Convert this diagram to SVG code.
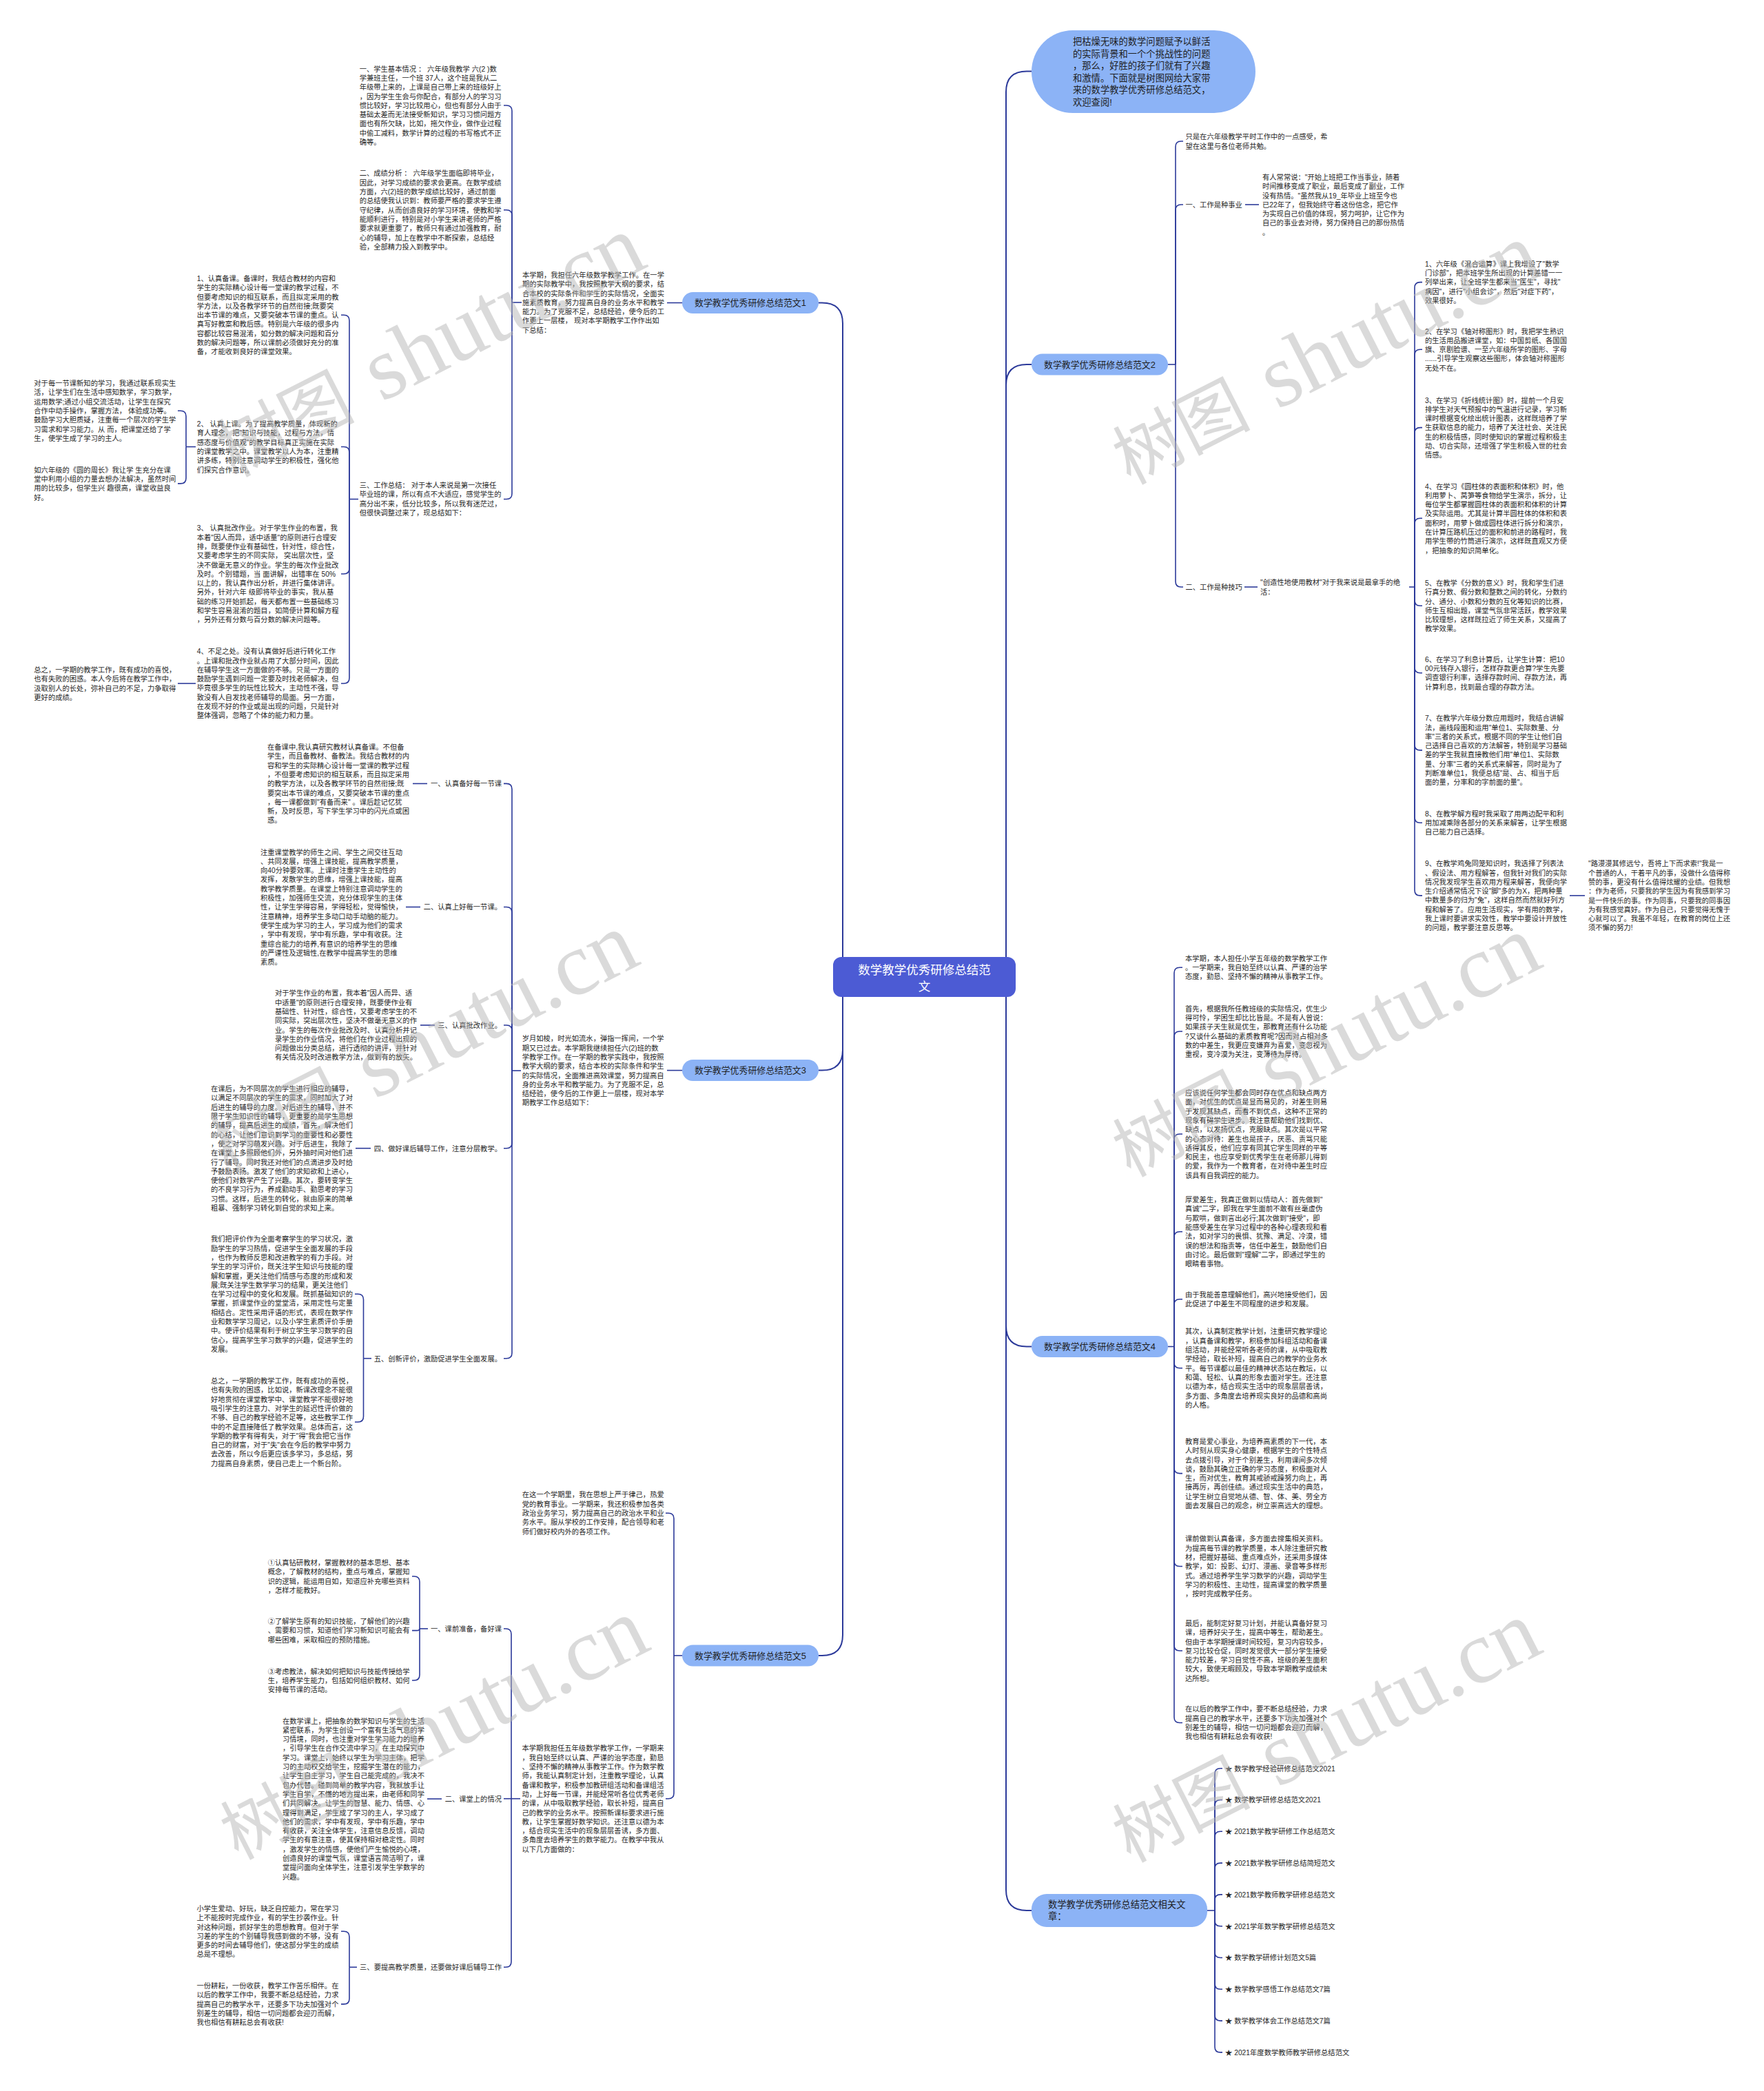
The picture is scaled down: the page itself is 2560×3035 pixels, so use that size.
<svg xmlns="http://www.w3.org/2000/svg" width="2560" height="3035" viewBox="0 0 2560 3035">
<style>
.t{font-family:"Liberation Sans","Noto Sans CJK SC",sans-serif;font-size:10.3px;fill:#262626}
.bn{font-family:"Liberation Sans","Noto Sans CJK SC",sans-serif;font-size:12.9px;fill:#1e1e1e}
.bb{font-family:"Liberation Sans","Noto Sans CJK SC",sans-serif;font-size:13.3px;fill:#1e1e1e}
.cn{font-family:"Liberation Sans","Noto Sans CJK SC",sans-serif;font-size:17.5px;fill:#ffffff}
.pill{fill:#8cb3f6}
.c{fill:none;stroke:#2c3a9a;stroke-width:1.6}
.c0{fill:none;stroke:#2c3a9a;stroke-width:2}
.wm{fill:#b5b5b5;fill-opacity:0.5}
</style>
<rect x="0" y="0" width="2560" height="3035" fill="#ffffff"/>

<g id="connectors">
<path class="c0" d="M1460 1418V133.5Q1460 103.5 1490 103.5H1497"/>
<path class="c0" d="M1460 1418V559Q1460 529 1490 529H1497"/>
<path class="c0" d="M1460 1418V1924.5Q1460 1954.5 1490 1954.5H1497"/>
<path class="c0" d="M1460 1418V2743Q1460 2773 1490 2773H1497"/>
<path class="c0" d="M1223 1418V469.5Q1223 439.5 1193 439.5H1188"/>
<path class="c0" d="M1223 1418V1523.6Q1223 1553.6 1193 1553.6H1188"/>
<path class="c0" d="M1223 1418V2373Q1223 2403 1193 2403H1188"/>

<path class="c" d="M990 439.5H968"/>
<path class="c" d="M757 439H743"/>
<path class="c" d="M743 439V161Q743 153 735 153H731"/>
<path class="c" d="M743 439V312.8Q743 304.8 735 304.8H731"/>
<path class="c" d="M743 439V716.5Q743 724.5 735 724.5H731"/>
<path class="c" d="M520 724.5H507"/>
<path class="c" d="M507 724.5V465.3Q507 457.3 499 457.3H495"/>
<path class="c" d="M507 724.5V656.5Q507 648.5 499 648.5H495"/>
<path class="c" d="M507 724.5V825Q507 833 499 833H495"/>
<path class="c" d="M507 724.5V984Q507 992 499 992H495"/>
<path class="c" d="M284 648.5H270"/>
<path class="c" d="M270 648.5V604.2Q270 596.2 262 596.2H258"/>
<path class="c" d="M270 648.5V693.9Q270 701.9 262 701.9H258"/>
<path class="c" d="M284 992H258"/>

<path class="c" d="M990 1553.6H968"/>
<path class="c" d="M756 1554H743"/>
<path class="c" d="M743 1554V1145.4Q743 1137.4 735 1137.4H731"/>
<path class="c" d="M743 1554V1324.5Q743 1316.5 735 1316.5H731"/>
<path class="c" d="M743 1554V1496Q743 1488 735 1488H731"/>
<path class="c" d="M743 1554V1658.7Q743 1666.7 735 1666.7H731"/>
<path class="c" d="M743 1554V1963.7Q743 1971.7 735 1971.7H731"/>
<path class="c" d="M620 1137.4H599"/>
<path class="c" d="M610 1316.5H589"/>
<path class="c" d="M631 1488H610"/>
<path class="c" d="M538 1666.7H516"/>
<path class="c" d="M539 1971.7H527.5"/>
<path class="c" d="M527.5 1971.7V1886.3Q527.5 1878.3 519.5 1878.3H515"/>
<path class="c" d="M527.5 1971.7V2056Q527.5 2064 519.5 2064H515"/>

<path class="c" d="M990 2403H978"/>
<path class="c" d="M978 2403V2204.2Q978 2196.2 970 2196.2H966"/>
<path class="c" d="M978 2403V2602.7Q978 2610.7 970 2610.7H966"/>
<path class="c" d="M755 2610.7H742"/>
<path class="c" d="M742 2610.7V2372Q742 2364 734 2364H731"/>
<path class="c" d="M742 2610.7H731"/>
<path class="c" d="M742 2610.7V2847.3Q742 2855.3 734 2855.3H731"/>
<path class="c" d="M621 2364H609"/>
<path class="c" d="M609 2364V2296Q609 2288 601 2288H598"/>
<path class="c" d="M609 2364Q609 2366.6 605 2366.6H598"/>
<path class="c" d="M609 2364V2431Q609 2439 601 2439H598"/>
<path class="c" d="M641 2611H620"/>
<path class="c" d="M518 2855.3H507"/>
<path class="c" d="M507 2855.3V2811.3Q507 2803.3 499 2803.3H495"/>
<path class="c" d="M507 2855.3V2900.9Q507 2908.9 499 2908.9H495"/>

<path class="c" d="M1695 529H1706"/>
<path class="c" d="M1706 529V213Q1706 205 1714 205H1717"/>
<path class="c" d="M1706 529V305Q1706 297 1714 297H1717"/>
<path class="c" d="M1706 529V844Q1706 852 1714 852H1717"/>
<path class="c" d="M1807 297H1827"/>
<path class="c" d="M1806 852H1825"/>
<path class="c" d="M2045 852H2053"/>
<path class="c" d="M2053 852V417.6Q2053 409.6 2061 409.6H2064"/>
<path class="c" d="M2053 852V515.3Q2053 507.3 2061 507.3H2064"/>
<path class="c" d="M2053 852V628.6Q2053 620.6 2061 620.6H2064"/>
<path class="c" d="M2053 852V760.2Q2053 752.2 2061 752.2H2064"/>
<path class="c" d="M2053 852V871.3Q2053 879.3 2061 879.3H2064"/>
<path class="c" d="M2053 852V968.7Q2053 976.7 2061 976.7H2064"/>
<path class="c" d="M2053 852V1080.9Q2053 1088.9 2061 1088.9H2064"/>
<path class="c" d="M2053 852V1186.3Q2053 1194.3 2061 1194.3H2064"/>
<path class="c" d="M2053 852V1291.9Q2053 1299.9 2061 1299.9H2064"/>
<path class="c" d="M2278 1299.9H2300"/>

<path class="c" d="M1695 1954.5H1704"/>
<path class="c" d="M1704 1954.5V1412.3Q1704 1404.3 1712 1404.3H1716"/>
<path class="c" d="M1704 1954.5V1505Q1704 1497 1712 1497H1716"/>
<path class="c" d="M1704 1954.5V1654Q1704 1646 1712 1646H1716"/>
<path class="c" d="M1704 1954.5V1795.7Q1704 1787.7 1712 1787.7H1716"/>
<path class="c" d="M1704 1954.5V1893.7Q1704 1885.7 1712 1885.7H1716"/>
<path class="c" d="M1704 1954.5V1977.8Q1704 1985.8 1712 1985.8H1716"/>
<path class="c" d="M1704 1954.5V2130.6Q1704 2138.6 1712 2138.6H1716"/>
<path class="c" d="M1704 1954.5V2265.5Q1704 2273.5 1712 2273.5H1716"/>
<path class="c" d="M1704 1954.5V2388Q1704 2396 1712 2396H1716"/>
<path class="c" d="M1704 1954.5V2492.5Q1704 2500.5 1712 2500.5H1716"/>

<path class="c" d="M1752 2773H1763"/>
<path class="c" d="M1763 2773V2574.7Q1763 2566.7 1771 2566.7H1774"/>
<path class="c" d="M1763 2773V2620.5Q1763 2612.5 1771 2612.5H1774"/>
<path class="c" d="M1763 2773V2666.3Q1763 2658.3 1771 2658.3H1774"/>
<path class="c" d="M1763 2773V2712.1Q1763 2704.1 1771 2704.1H1774"/>
<path class="c" d="M1763 2773V2757.9Q1763 2749.9 1771 2749.9H1774"/>
<path class="c" d="M1763 2773V2787.7Q1763 2795.7 1771 2795.7H1774"/>
<path class="c" d="M1763 2773V2833.5Q1763 2841.5 1771 2841.5H1774"/>
<path class="c" d="M1763 2773V2879.3Q1763 2887.3 1771 2887.3H1774"/>
<path class="c" d="M1763 2773V2925.1Q1763 2933.1 1771 2933.1H1774"/>
<path class="c" d="M1763 2773V2970.9Q1763 2978.9 1771 2978.9H1774"/>
</g>

<g id="center">
<rect x="1209" y="1389" width="265" height="58" rx="12" fill="#4c5bd4"/>
<text class="cn" text-anchor="middle"><tspan x="1341.5" y="1413.5">数学教学优秀研修总结范</tspan><tspan x="1341.5" y="1437.5">文</tspan></text>
</g>

<g id="intro-bubble">
<rect class="pill" x="1497" y="44" width="325" height="120" rx="60"/>
<text class="bb"><tspan x="1557" y="64.9">把枯燥无味的数学问题赋予以鲜活</tspan><tspan x="1557" dy="17.6">的实际背景和一个个挑战性的问题</tspan><tspan x="1557" dy="17.6">，那么，好胜的孩子们就有了兴趣</tspan><tspan x="1557" dy="17.6">和激情。下面就是树图网给大家带</tspan><tspan x="1557" dy="17.6">来的数学教学优秀研修总结范文，</tspan><tspan x="1557" dy="17.6">欢迎查阅!</tspan></text>
</g>

<g id="fanwen1">
<rect class="pill" x="990" y="424" width="198" height="31" rx="15.5"/>
<text class="bn" x="1089" y="444.2" text-anchor="middle">数学教学优秀研修总结范文1</text>
</g>
<g id="f1-intro"><text class="t"><tspan x="758" y="402.9">本学期，我担任六年级数学教学工作。在一学</tspan><tspan x="758" dy="13.3">期的实际教学中，我按照教学大纲的要求，结</tspan><tspan x="758" dy="13.3">合本校的实际条件和学生的实际情况，全面实</tspan><tspan x="758" dy="13.3">施素质教育，努力提高自身的业务水平和教学</tspan><tspan x="758" dy="13.3">能力。为了克服不足，总结经验，使今后的工</tspan><tspan x="758" dy="13.3">作更上一层楼， 现对本学期教学工作作出如</tspan><tspan x="758" dy="13.3">下总结：</tspan></text></g>
<g id="f1-s1"><text class="t"><tspan x="521.7" y="103.6">一、学生基本情况 ： 六年级我教学 六(2 )数</tspan><tspan x="521.7" dy="13.3">学兼班主任，一个班 37人，这个班是我从二</tspan><tspan x="521.7" dy="13.3">年级带上来的，上课是自己带上来的班级好上</tspan><tspan x="521.7" dy="13.3">，因为学生生会与你配合，有部分人的学习习</tspan><tspan x="521.7" dy="13.3">惯比较好，学习比较用心，但也有部分人由于</tspan><tspan x="521.7" dy="13.3">基础太差而无法接受新知识，学习习惯问题方</tspan><tspan x="521.7" dy="13.3">面也有所欠缺，比如，拖欠作业，做作业过程</tspan><tspan x="521.7" dy="13.3">中偷工减料，数学计算的过程的书写格式不正</tspan><tspan x="521.7" dy="13.3">确等。</tspan></text></g>
<g id="f1-s2"><text class="t"><tspan x="521.7" y="255.4">二、成绩分析 ： 六年级学生面临即将毕业，</tspan><tspan x="521.7" dy="13.3">因此，对学习成绩的要求会更高。在数学成绩</tspan><tspan x="521.7" dy="13.3">方面，六(2)班的数学成绩比较好，通过前面</tspan><tspan x="521.7" dy="13.3">的总结使我认识到：教师要严格的要求学生遵</tspan><tspan x="521.7" dy="13.3">守纪律，从而创造良好的学习环境，使教和学</tspan><tspan x="521.7" dy="13.3">能顺利进行，特别是对小学生来讲老师的严格</tspan><tspan x="521.7" dy="13.3">要求就更重要了，教师只有通过加强教育，耐</tspan><tspan x="521.7" dy="13.3">心的辅导，加上在教学中不断探索，总结经</tspan><tspan x="521.7" dy="13.3">验，全部精力投入到教学中。</tspan></text></g>
<g id="f1-s3"><text class="t"><tspan x="521.7" y="707.9">三、工作总结： 对于本人来说是第一次接任</tspan><tspan x="521.7" dy="13.3">毕业班的课，所以有点不大适应，感觉学生的</tspan><tspan x="521.7" dy="13.3">高分出不来，低分比较多，所以我有迷茫过，</tspan><tspan x="521.7" dy="13.3">但很快调整过来了，现总结如下：</tspan></text></g>
<g id="f1-p1"><text class="t"><tspan x="285.7" y="407.9">1、认真备课。备课时，我结合教材的内容和</tspan><tspan x="285.7" dy="13.3">学生的实际精心设计每一堂课的教学过程，不</tspan><tspan x="285.7" dy="13.3">但要考虑知识的相互联系，而且拟定采用的教</tspan><tspan x="285.7" dy="13.3">学方法，以及各教学环节的自然衔接;既要突</tspan><tspan x="285.7" dy="13.3">出本节课的难点，又要突破本节课的重点。认</tspan><tspan x="285.7" dy="13.3">真写好教案和教后感。特别是六年级的很多内</tspan><tspan x="285.7" dy="13.3">容都比较容易混淆，如分数的解决问题和百分</tspan><tspan x="285.7" dy="13.3">数的解决问题等，所以课前必须做好充分的准</tspan><tspan x="285.7" dy="13.3">备，才能收到良好的课堂效果。</tspan></text></g>
<g id="f1-p2"><text class="t"><tspan x="285.7" y="619">2、 认真上课。为了提高教学质量，体现新的</tspan><tspan x="285.7" dy="13.3">育人理念，把"知识与技能，过程与方法，情</tspan><tspan x="285.7" dy="13.3">感态度与价值观"的教学目标真正实施在实际</tspan><tspan x="285.7" dy="13.3">的课堂教学之中。课堂教学以人为本，注重精</tspan><tspan x="285.7" dy="13.3">讲多练，特别注意调动学生的积极性，强化他</tspan><tspan x="285.7" dy="13.3">们探究合作意识。</tspan></text></g>
<g id="f1-p3"><text class="t"><tspan x="285.7" y="770.3">3、 认真批改作业。对于学生作业的布置，我</tspan><tspan x="285.7" dy="13.3">本着"因人而异，适中适量"的原则进行合理安</tspan><tspan x="285.7" dy="13.3">排，既要使作业有基础性，针对性，综合性，</tspan><tspan x="285.7" dy="13.3">又要考虑学生的不同实际， 突出层次性，坚</tspan><tspan x="285.7" dy="13.3">决不做毫无意义的作业。学生的每次作业批改</tspan><tspan x="285.7" dy="13.3">及时。个别错题，当 面讲解，出错率在 50%</tspan><tspan x="285.7" dy="13.3">以上的，我认真作出分析，并进行集体讲评。</tspan><tspan x="285.7" dy="13.3">另外，针对六年 级即将毕业的事实，我从基</tspan><tspan x="285.7" dy="13.3">础的练习开始抓起，每天都布置一些基础练习</tspan><tspan x="285.7" dy="13.3">和学生容易混淆的题目，如简便计算和解方程</tspan><tspan x="285.7" dy="13.3">，另外还有分数与百分数的解决问题等。</tspan></text></g>
<g id="f1-p4"><text class="t"><tspan x="285.7" y="949.2">4、不足之处。没有认真做好后进行转化工作</tspan><tspan x="285.7" dy="13.3">。上课和批改作业就占用了大部分时间，因此</tspan><tspan x="285.7" dy="13.3">在辅导学生这一方面做的不够。只是一方面的</tspan><tspan x="285.7" dy="13.3">鼓励学生遇到问题一定要及时找老师解决，但</tspan><tspan x="285.7" dy="13.3">毕竟很多学生的玩性比较大，主动性不强，导</tspan><tspan x="285.7" dy="13.3">致没有人自发找老师辅导的局面。另一方面，</tspan><tspan x="285.7" dy="13.3">在发现不好的作业或是出现的问题，只是针对</tspan><tspan x="285.7" dy="13.3">整体强调，忽略了个体的能力和力量。</tspan></text></g>
<g id="f1-p2a"><text class="t"><tspan x="49.3" y="560.1">对于每一节课新知的学习，我通过联系现实生</tspan><tspan x="49.3" dy="13.3">活，让学生们在生活中感知数学，学习数学，</tspan><tspan x="49.3" dy="13.3">运用数学;通过小组交流活动，让学生在探究</tspan><tspan x="49.3" dy="13.3">合作中动手操作，掌握方法， 体验成功等。</tspan><tspan x="49.3" dy="13.3">鼓励学习大胆质疑，注重每一个层次的学生学</tspan><tspan x="49.3" dy="13.3">习需求和学习能力。从 而，把课堂还给了学</tspan><tspan x="49.3" dy="13.3">生，使学生成了学习的主人。</tspan></text></g>
<g id="f1-p2b"><text class="t"><tspan x="49.3" y="685.8">如六年级的《圆的周长》我让学 生充分在课</tspan><tspan x="49.3" dy="13.3">堂中利用小组的力量去想办法解决，虽然时间</tspan><tspan x="49.3" dy="13.3">用的比较多，但学生兴 趣很高，课堂收益良</tspan><tspan x="49.3" dy="13.3">好。</tspan></text></g>
<g id="f1-p4a"><text class="t"><tspan x="49.3" y="975.9">总之，一学期的教学工作，既有成功的喜悦，</tspan><tspan x="49.3" dy="13.3">也有失败的困惑。本人今后将在教学工作中，</tspan><tspan x="49.3" dy="13.3">汲取别人的长处，弥补自己的不足，力争取得</tspan><tspan x="49.3" dy="13.3">更好的成绩。</tspan></text></g>

<g id="fanwen3">
<rect class="pill" x="990" y="1538" width="198" height="31" rx="15.5"/>
<text class="bn" x="1089" y="1558.3" text-anchor="middle">数学教学优秀研修总结范文3</text>
</g>
<g id="f3-intro"><text class="t"><tspan x="757.7" y="1511.3">岁月如梭，时光如流水，弹指一挥间，一个学</tspan><tspan x="757.7" dy="13.3">期又已过去。本学期我继续担任六(2)班的数</tspan><tspan x="757.7" dy="13.3">学教学工作。在一学期的教学实践中，我按照</tspan><tspan x="757.7" dy="13.3">教学大纲的要求，结合本校的实际条件和学生</tspan><tspan x="757.7" dy="13.3">的实际情况，全面推进高效课堂，努力提高自</tspan><tspan x="757.7" dy="13.3">身的业务水平和教学能力。为了克服不足，总</tspan><tspan x="757.7" dy="13.3">结经验，使今后的工作更上一层楼，现对本学</tspan><tspan x="757.7" dy="13.3">期教学工作总结如下：</tspan></text></g>
<g id="f3-l1"><text class="t" x="728" y="1141.2" text-anchor="end">一、认真备好每一节课</text></g>
<g id="f3-l2"><text class="t" x="728" y="1320.3" text-anchor="end">二、认真上好每一节课。</text></g>
<g id="f3-l3"><text class="t" x="728" y="1491.8" text-anchor="end">三、认真批改作业。</text></g>
<g id="f3-l4"><text class="t" x="728" y="1670.5" text-anchor="end">四、做好课后辅导工作，注意分层教学。</text></g>
<g id="f3-l5"><text class="t" x="728" y="1975.5" text-anchor="end">五、创新评价，激励促进学生全面发展。</text></g>
<g id="f3-b1"><text class="t"><tspan x="388" y="1088">在备课中,我认真研究教材认真备课。不但备</tspan><tspan x="388" dy="13.3">学生，而且备教材、备教法。我结合教材的内</tspan><tspan x="388" dy="13.3">容和学生的实际精心设计每一堂课的教学过程</tspan><tspan x="388" dy="13.3">，不但要考虑知识的相互联系，而且拟定采用</tspan><tspan x="388" dy="13.3">的教学方法，以及各教学环节的自然衔接;既</tspan><tspan x="388" dy="13.3">要突出本节课的难点，又要突破本节课的重点</tspan><tspan x="388" dy="13.3">，每一课都做到"有备而来" 。课后趁记忆犹</tspan><tspan x="388" dy="13.3">新，及时反思，写下学生学习中的闪光点或困</tspan><tspan x="388" dy="13.3">惑。</tspan></text></g>
<g id="f3-b2"><text class="t"><tspan x="378" y="1240.5">注重课堂教学的师生之间、学生之间交往互动</tspan><tspan x="378" dy="13.3">、共同发展，增强上课技能，提高教学质量，</tspan><tspan x="378" dy="13.3">向40分钟要效率。上课时注重学生主动性的</tspan><tspan x="378" dy="13.3">发挥，发散学生的思维，增强上课技能，提高</tspan><tspan x="378" dy="13.3">教学教学质量。在课堂上特别注意调动学生的</tspan><tspan x="378" dy="13.3">积极性，加强师生交流，充分体现学生的主体</tspan><tspan x="378" dy="13.3">性，让学生学得容易，学得轻松，觉得愉快，</tspan><tspan x="378" dy="13.3">注意精神，培养学生多动口动手动脑的能力。</tspan><tspan x="378" dy="13.3">使学生成为学习的主人，学习成为他们的需求</tspan><tspan x="378" dy="13.3">，学中有发现，学中有乐趣，学中有收获。注</tspan><tspan x="378" dy="13.3">重综合能力的培养,有意识的培养学生的思维</tspan><tspan x="378" dy="13.3">的严谨性及逻辑性,在教学中提高学生的思维</tspan><tspan x="378" dy="13.3">素质。</tspan></text></g>
<g id="f3-b3"><text class="t"><tspan x="399" y="1445.3">对于学生作业的布置，我本着"因人而异、适</tspan><tspan x="399" dy="13.3">中适量"的原则进行合理安排，既要使作业有</tspan><tspan x="399" dy="13.3">基础性、针对性，综合性，又要考虑学生的不</tspan><tspan x="399" dy="13.3">同实际，突出层次性，坚决不做毫无意义的作</tspan><tspan x="399" dy="13.3">业。学生的每次作业批改及时、认真分析并记</tspan><tspan x="399" dy="13.3">录学生的作业情况，将他们在作业过程出现的</tspan><tspan x="399" dy="13.3">问题做出分类总结，进行透彻的讲评，并针对</tspan><tspan x="399" dy="13.3">有关情况及时改进教学方法，做到有的放矢。</tspan></text></g>
<g id="f3-b4"><text class="t"><tspan x="306" y="1584.1">在课后，为不同层次的学生进行相应的辅导，</tspan><tspan x="306" dy="13.3">以满足不同层次的学生的需求，同时加大了对</tspan><tspan x="306" dy="13.3">后进生的辅导的力度。对后进生的辅导，并不</tspan><tspan x="306" dy="13.3">限于学生知识性的辅导，更重要的是学生思想</tspan><tspan x="306" dy="13.3">的辅导，提高后进生的成绩，首先，解决他们</tspan><tspan x="306" dy="13.3">的心结，让他们意识到学习的重要性和必要性</tspan><tspan x="306" dy="13.3">，使之对学习萌发兴趣。对于后进生，我除了</tspan><tspan x="306" dy="13.3">在课堂上多照顾他们外，另外抽时间对他们进</tspan><tspan x="306" dy="13.3">行了辅导。同时我还对他们的点滴进步及时给</tspan><tspan x="306" dy="13.3">予鼓励表扬。激发了他们的求知欲和上进心，</tspan><tspan x="306" dy="13.3">使他们对数学产生了兴趣。其次，要转变学生</tspan><tspan x="306" dy="13.3">的不良学习行为，养成勤动手、勤思考的学习</tspan><tspan x="306" dy="13.3">习惯。这样，后进生的转化，就由原来的简单</tspan><tspan x="306" dy="13.3">粗暴、强制学习转化到自觉的求知上来。</tspan></text></g>
<g id="f3-b5"><text class="t"><tspan x="306" y="1802.3">我们把评价作为全面考察学生的学习状况，激</tspan><tspan x="306" dy="13.3">励学生的学习热情，促进学生全面发展的手段</tspan><tspan x="306" dy="13.3">，也作为教师反思和改进教学的有力手段。对</tspan><tspan x="306" dy="13.3">学生的学习评价，既关注学生知识与技能的理</tspan><tspan x="306" dy="13.3">解和掌握，更关注他们情感与态度的形成和发</tspan><tspan x="306" dy="13.3">展;既关注学生数学学习的结果，更关注他们</tspan><tspan x="306" dy="13.3">在学习过程中的变化和发展。既抓基础知识的</tspan><tspan x="306" dy="13.3">掌握，抓课堂作业的堂堂清，采用定性与定量</tspan><tspan x="306" dy="13.3">相结合。定性采用评语的形式，表现在数学作</tspan><tspan x="306" dy="13.3">业和数学学习周记，以及小学生素质评价手册</tspan><tspan x="306" dy="13.3">中。使评价结果有利于树立学生学习数学的自</tspan><tspan x="306" dy="13.3">信心，提高学生学习数学的兴趣，促进学生的</tspan><tspan x="306" dy="13.3">发展。</tspan></text></g>
<g id="f3-b6"><text class="t"><tspan x="306" y="2008">总之，一学期的教学工作，既有成功的喜悦，</tspan><tspan x="306" dy="13.3">也有失败的困惑，比如说，新课改理念不能很</tspan><tspan x="306" dy="13.3">好地贯彻在课堂教学中、课堂教学不能很好地</tspan><tspan x="306" dy="13.3">吸引学生的注意力、对学生的延迟性评价做的</tspan><tspan x="306" dy="13.3">不够、自己的教学经验不足等，这些教学工作</tspan><tspan x="306" dy="13.3">中的不足直接降低了教学效果。总体而言，这</tspan><tspan x="306" dy="13.3">学期的教学有得有失，对于"得"我会把它当作</tspan><tspan x="306" dy="13.3">自己的财富，对于"失"会在今后的教学中努力</tspan><tspan x="306" dy="13.3">去改善，所以今后更应该多学习，多总结，努</tspan><tspan x="306" dy="13.3">力提高自身素质，使自己走上一个新台阶。</tspan></text></g>

<g id="fanwen5">
<rect class="pill" x="990" y="2387.5" width="198" height="31" rx="15.5"/>
<text class="bn" x="1089" y="2407.7" text-anchor="middle">数学教学优秀研修总结范文5</text>
</g>
<g id="f5-intro1"><text class="t"><tspan x="757.8" y="2173.4">在这一个学期里，我在思想上严于律己，热爱</tspan><tspan x="757.8" dy="13.3">党的教育事业。一学期来，我还积极参加各类</tspan><tspan x="757.8" dy="13.3">政治业务学习，努力提高自己的政治水平和业</tspan><tspan x="757.8" dy="13.3">务水平。服从学校的工作安排，配合领导和老</tspan><tspan x="757.8" dy="13.3">师们做好校内外的各项工作。</tspan></text></g>
<g id="f5-intro2"><text class="t"><tspan x="757.5" y="2541.4">本学期我担任五年级数学教学工作，一学期来</tspan><tspan x="757.5" dy="13.3">，我自始至终以认真、严谨的治学态度，勤恳</tspan><tspan x="757.5" dy="13.3">、坚持不懈的精神从事教学工作。作为数学教</tspan><tspan x="757.5" dy="13.3">师，我能认真制定计划，注重教学理论，认真</tspan><tspan x="757.5" dy="13.3">备课和教学，积极参加教研组活动和备课组活</tspan><tspan x="757.5" dy="13.3">动，上好每一节课，并能经常听各位优秀老师</tspan><tspan x="757.5" dy="13.3">的课，从中吸取教学经验，取长补短，提高自</tspan><tspan x="757.5" dy="13.3">己的教学的业务水平。按照新课标要求进行施</tspan><tspan x="757.5" dy="13.3">教，让学生掌握好数学知识。还注意以德为本</tspan><tspan x="757.5" dy="13.3">，结合现实生活中的现象层层善诱，多方面、</tspan><tspan x="757.5" dy="13.3">多角度去培养学生的数学能力。在教学中我从</tspan><tspan x="757.5" dy="13.3">以下几方面做的：</tspan></text></g>
<g id="f5-l1"><text class="t" x="728" y="2367.8" text-anchor="end">一、课前准备，备好课</text></g>
<g id="f5-l2"><text class="t" x="728" y="2614.8" text-anchor="end">二、课堂上的情况</text></g>
<g id="f5-l3"><text class="t" x="728" y="2859.1" text-anchor="end">三、要提高教学质量，还要做好课后辅导工作</text></g>
<g id="f5-a1"><text class="t"><tspan x="388.7" y="2271.9">①认真钻研教材，掌握教材的基本思想、基本</tspan><tspan x="388.7" dy="13.3">概念，了解教材的结构，重点与难点，掌握知</tspan><tspan x="388.7" dy="13.3">识的逻辑，能运用自如，知道应补充哪些资料</tspan><tspan x="388.7" dy="13.3">，怎样才能教好。</tspan></text></g>
<g id="f5-a2"><text class="t"><tspan x="388.7" y="2357.1">②了解学生原有的知识技能，了解他们的兴趣</tspan><tspan x="388.7" dy="13.3">、需要和习惯，知道他们学习新知识可能会有</tspan><tspan x="388.7" dy="13.3">哪些困难，采取相应的预防措施。</tspan></text></g>
<g id="f5-a3"><text class="t"><tspan x="388.7" y="2429.5">③考虑教法，解决如何把知识与技能传授给学</tspan><tspan x="388.7" dy="13.3">生，培养学生能力，包括如何组织教材、如何</tspan><tspan x="388.7" dy="13.3">安排每节课的活动。</tspan></text></g>
<g id="f5-b1"><text class="t"><tspan x="410" y="2501.5">在数学课上，把抽象的数学知识与学生的生活</tspan><tspan x="410" dy="13.3">紧密联系，为学生创设一个富有生活气息的学</tspan><tspan x="410" dy="13.3">习情境，同时，也注重对学生学习能力的培养</tspan><tspan x="410" dy="13.3">，引导学生在合作交流中学习，在主动探究中</tspan><tspan x="410" dy="13.3">学习。课堂上，始终以学生为学习主体，把学</tspan><tspan x="410" dy="13.3">习的主动权交给学生，挖掘学生潜在的能力，</tspan><tspan x="410" dy="13.3">让学生自主学习，学生自己能完成的，我决不</tspan><tspan x="410" dy="13.3">包办代替。碰到简单的教学内容，我就放手让</tspan><tspan x="410" dy="13.3">学生自学，不懂的地方提出来，由老师和同学</tspan><tspan x="410" dy="13.3">们共同解决。让学生的智慧、能力、情感、心</tspan><tspan x="410" dy="13.3">理得到满足，学生成了学习的主人，学习成了</tspan><tspan x="410" dy="13.3">他们的需求，学中有发现，学中有乐趣，学中</tspan><tspan x="410" dy="13.3">有收获，关注全体学生，注意信息反馈，调动</tspan><tspan x="410" dy="13.3">学生的有意注意，使其保持相对稳定性。同时</tspan><tspan x="410" dy="13.3">，激发学生的情感，使他们产生愉悦的心境，</tspan><tspan x="410" dy="13.3">创造良好的课堂气氛，课堂语言简洁明了，课</tspan><tspan x="410" dy="13.3">堂提问面向全体学生，注意引发学生学数学的</tspan><tspan x="410" dy="13.3">兴趣。</tspan></text></g>
<g id="f5-c1"><text class="t"><tspan x="285.5" y="2773.9">小学生爱动、好玩，缺乏自控能力，常在学习</tspan><tspan x="285.5" dy="13.3">上不能按时完成作业，有的学生抄袭作业。针</tspan><tspan x="285.5" dy="13.3">对这种问题，抓好学生的思想教育。但对于学</tspan><tspan x="285.5" dy="13.3">习差的学生的个别辅导我感到做的不够，没有</tspan><tspan x="285.5" dy="13.3">更多的时间去辅导他们，使这部分学生的成绩</tspan><tspan x="285.5" dy="13.3">总是不理想。</tspan></text></g>
<g id="f5-c2"><text class="t"><tspan x="285.5" y="2886.1">一份耕耘，一份收获，教学工作苦乐相伴。在</tspan><tspan x="285.5" dy="13.3">以后的教学工作中，我要不断总结经验，力求</tspan><tspan x="285.5" dy="13.3">提高自己的教学水平，还要多下功夫加强对个</tspan><tspan x="285.5" dy="13.3">别差生的辅导，相信一切问题都会迎刃而解，</tspan><tspan x="285.5" dy="13.3">我也相信有耕耘总会有收获!</tspan></text></g>

<g id="fanwen2">
<rect class="pill" x="1497" y="513.5" width="198" height="31" rx="15.5"/>
<text class="bn" x="1596" y="533.7" text-anchor="middle">数学教学优秀研修总结范文2</text>
</g>
<g id="f2-a"><text class="t"><tspan x="1720.5" y="202.2">只是在六年级教学平时工作中的一点感受，希</tspan><tspan x="1720.5" dy="13.3">望在这里与各位老师共勉。</tspan></text></g>
<g id="f2-l1"><text class="t" x="1720.5" y="300.8">一、工作是种事业</text></g>
<g id="f2-l1t"><text class="t"><tspan x="1832" y="260.9">有人常常说："开始上班把工作当事业，随着</tspan><tspan x="1832" dy="13.3">时间推移变成了职业，最后变成了副业，工作</tspan><tspan x="1832" dy="13.3">没有热情。"虽然我从19_年毕业上班至今也</tspan><tspan x="1832" dy="13.3">已22年了，但我始终守着这份信念，把它作</tspan><tspan x="1832" dy="13.3">为实现自己价值的体现，努力呵护，让它作为</tspan><tspan x="1832" dy="13.3">自己的事业去对待，努力保持自己的那份热情</tspan><tspan x="1832" dy="13.3">。</tspan></text></g>
<g id="f2-l2"><text class="t" x="1720.5" y="855.8">二、工作是种技巧</text></g>
<g id="f2-l2t"><text class="t"><tspan x="1829" y="849.2">"创造性地使用教材"对于我来说是最拿手的绝</tspan><tspan x="1829" dy="13.3">活：</tspan></text></g>
<g id="f2-i1"><text class="t"><tspan x="2068" y="386.8">1、六年级《混合运算》课上我增设了"数学</tspan><tspan x="2068" dy="13.3">门诊部"，把本班学生所出现的计算差错一一</tspan><tspan x="2068" dy="13.3">列举出来，让全班学生都来当"医生"，寻找"</tspan><tspan x="2068" dy="13.3">病因"，进行"小组会诊"，然后"对症下药"，</tspan><tspan x="2068" dy="13.3">效果很好。</tspan></text></g>
<g id="f2-i2"><text class="t"><tspan x="2068" y="484.5">2、在学习《轴对称图形》时，我把学生熟识</tspan><tspan x="2068" dy="13.3">的生活用品搬进课堂，如：中国剪纸、各国国</tspan><tspan x="2068" dy="13.3">旗、京剧脸谱、一至六年级所学的图形、字母</tspan><tspan x="2068" dy="13.3">......引导学生观察这些图形，体会轴对称图形</tspan><tspan x="2068" dy="13.3">无处不在。</tspan></text></g>
<g id="f2-i3"><text class="t"><tspan x="2068" y="584.5">3、在学习《折线统计图》时，提前一个月安</tspan><tspan x="2068" dy="13.3">排学生对天气预报中的气温进行记录，学习新</tspan><tspan x="2068" dy="13.3">课时根据变化绘出统计图表，这样既培养了学</tspan><tspan x="2068" dy="13.3">生获取信息的能力，培养了关注社会、关注民</tspan><tspan x="2068" dy="13.3">生的积极情感，同时使知识的掌握过程积极主</tspan><tspan x="2068" dy="13.3">动、切合实际，还增强了学生积极入世的社会</tspan><tspan x="2068" dy="13.3">情感。</tspan></text></g>
<g id="f2-i4"><text class="t"><tspan x="2068" y="709.5">4、在学习《圆柱体的表面积和体积》时，他</tspan><tspan x="2068" dy="13.3">利用萝卜、莴笋等食物给学生演示，拆分，让</tspan><tspan x="2068" dy="13.3">每位学生都掌握圆柱体的表面积和体积的计算</tspan><tspan x="2068" dy="13.3">及实际运用。尤其是计算半圆柱体的体积和表</tspan><tspan x="2068" dy="13.3">面积时，用萝卜做成圆柱体进行拆分和演示，</tspan><tspan x="2068" dy="13.3">在计算压路机压过的面积和前进的路程时，我</tspan><tspan x="2068" dy="13.3">用学生带的竹筒进行演示，这样既直观又方便</tspan><tspan x="2068" dy="13.3">，把抽象的知识简单化。</tspan></text></g>
<g id="f2-i5"><text class="t"><tspan x="2068" y="849.9">5、在教学《分数的意义》时，我和学生们进</tspan><tspan x="2068" dy="13.3">行真分数、假分数和整数之间的转化，分数约</tspan><tspan x="2068" dy="13.3">分、通分、小数和分数的互化等知识的比赛，</tspan><tspan x="2068" dy="13.3">师生互相出题，课堂气氛非常活跃，教学效果</tspan><tspan x="2068" dy="13.3">比较理想，这样既拉近了师生关系，又提高了</tspan><tspan x="2068" dy="13.3">教学效果。</tspan></text></g>
<g id="f2-i6"><text class="t"><tspan x="2068" y="960.6">6、在学习了利息计算后，让学生计算：把10</tspan><tspan x="2068" dy="13.3">00元钱存入银行，怎样存款更合算?学生先要</tspan><tspan x="2068" dy="13.3">调查银行利率，选择存款时间、存款方法，再</tspan><tspan x="2068" dy="13.3">计算利息，找到最合理的存款方法。</tspan></text></g>
<g id="f2-i7"><text class="t"><tspan x="2068" y="1046.2">7、在教学六年级分数应用题时，我结合讲解</tspan><tspan x="2068" dy="13.3">法，画线段图和运用"单位1、实际数量、分</tspan><tspan x="2068" dy="13.3">率"三者的关系式，根据不同的学生让他们自</tspan><tspan x="2068" dy="13.3">己选择自己喜欢的方法解答，特别是学习基础</tspan><tspan x="2068" dy="13.3">差的学生我就直接教他们用"单位1、实际数</tspan><tspan x="2068" dy="13.3">量、分率"三者的关系式来解答，同时是为了</tspan><tspan x="2068" dy="13.3">判断准单位1，我便总结"是、占、相当于后</tspan><tspan x="2068" dy="13.3">面的量，分率和的字前面的量"。</tspan></text></g>
<g id="f2-i8"><text class="t"><tspan x="2068" y="1184.8">8、在教学解方程时我采取了用两边配平和利</tspan><tspan x="2068" dy="13.3">用加减乘除各部分的关系来解答，让学生根据</tspan><tspan x="2068" dy="13.3">自己能力自己选择。</tspan></text></g>
<g id="f2-i9"><text class="t"><tspan x="2068" y="1257.2">9、在教学鸡兔同笼知识时，我选择了列表法</tspan><tspan x="2068" dy="13.3">、假设法、用方程解答，但我针对我们的实际</tspan><tspan x="2068" dy="13.3">情况我发现学生喜欢用方程来解答，我便向学</tspan><tspan x="2068" dy="13.3">生介绍通常情况下设"脚"多的为X，把两种量</tspan><tspan x="2068" dy="13.3">中数量多的归为"兔"，这样自然而然就好列方</tspan><tspan x="2068" dy="13.3">程和解答了。应用生活现实，学有用的数学，</tspan><tspan x="2068" dy="13.3">我上课时要讲求实效性，教学中要设计开放性</tspan><tspan x="2068" dy="13.3">的问题，教学要注意反思等。</tspan></text></g>
<g id="f2-i9a"><text class="t"><tspan x="2305" y="1257.3">"路漫漫其修远兮，吾将上下而求索!"我是一</tspan><tspan x="2305" dy="13.3">个普通的人，干着平凡的事，没做什么值得称</tspan><tspan x="2305" dy="13.3">赞的事，更没有什么值得炫耀的业绩。但我想</tspan><tspan x="2305" dy="13.3">：作为老师，只要我的学生因为有我感到学习</tspan><tspan x="2305" dy="13.3">是一件快乐的事。作为同事，只要我的同事因</tspan><tspan x="2305" dy="13.3">为有我感觉真好。作为自己，只要觉得无愧于</tspan><tspan x="2305" dy="13.3">心就可以了。我虽不年轻，在教育的岗位上还</tspan><tspan x="2305" dy="13.3">须不懈的努力!</tspan></text></g>

<g id="fanwen4">
<rect class="pill" x="1497" y="1939" width="198" height="31" rx="15.5"/>
<text class="bn" x="1596" y="1959.2" text-anchor="middle">数学教学优秀研修总结范文4</text>
</g>
<g id="f4-a"><text class="t"><tspan x="1720" y="1394.8">本学期，本人担任小学五年级的数学教学工作</tspan><tspan x="1720" dy="13.3">。一学期来，我自始至终以认真、严谨的治学</tspan><tspan x="1720" dy="13.3">态度，勤恳、坚持不懈的精神从事教学工作。</tspan></text></g>
<g id="f4-b"><text class="t"><tspan x="1720" y="1467.6">首先，根据我所任教班级的实际情况，优生少</tspan><tspan x="1720" dy="13.3">得可怜，学困生却比比皆是。不是有人曾说：</tspan><tspan x="1720" dy="13.3">如果孩子天生就是优生，那教育还有什么功能</tspan><tspan x="1720" dy="13.3">?又谈什么基础的素质教育呢?因而对占相对多</tspan><tspan x="1720" dy="13.3">数的中差生，我更应变嫌弃为喜爱，变忽视为</tspan><tspan x="1720" dy="13.3">重视，变冷漠为关注，变薄待为厚待。</tspan></text></g>
<g id="f4-c"><text class="t"><tspan x="1720" y="1590">应该说任何学生都会同时存在优点和缺点两方</tspan><tspan x="1720" dy="13.3">面，对优生的优点是显而易见的，对差生则易</tspan><tspan x="1720" dy="13.3">于发现其缺点，而看不到优点，这种不正常的</tspan><tspan x="1720" dy="13.3">现象有碍学生进步。我注意帮助他们找到优、</tspan><tspan x="1720" dy="13.3">缺点，以发扬优点，克服缺点。其次是以平常</tspan><tspan x="1720" dy="13.3">的心态对待：差生也是孩子，厌恶、责骂只能</tspan><tspan x="1720" dy="13.3">适得其反，他们应享有同其它学生同样的平等</tspan><tspan x="1720" dy="13.3">和民主，也应享受到优秀学生在老师那儿得到</tspan><tspan x="1720" dy="13.3">的爱，我作为一个教育者，在对待中差生时应</tspan><tspan x="1720" dy="13.3">该具有自我调控的能力。</tspan></text></g>
<g id="f4-d"><text class="t"><tspan x="1720" y="1745">厚爱差生，我真正做到以情动人：首先做到"</tspan><tspan x="1720" dy="13.3">真诚"二字，即我在学生面前不敢有丝毫虚伪</tspan><tspan x="1720" dy="13.3">与欺哄，做到言出必行;其次做到"接受"，即</tspan><tspan x="1720" dy="13.3">能感受差生在学习过程中的各种心理表现和看</tspan><tspan x="1720" dy="13.3">法，如对学习的畏惧、犹豫、满足、冷漠，错</tspan><tspan x="1720" dy="13.3">误的想法和指责等，信任中差生，鼓励他们自</tspan><tspan x="1720" dy="13.3">由讨论。最后做到"理解"二字，即通过学生的</tspan><tspan x="1720" dy="13.3">眼睛看事物。</tspan></text></g>
<g id="f4-e"><text class="t"><tspan x="1720" y="1882.9">由于我能善意理解他们，高兴地接受他们，因</tspan><tspan x="1720" dy="13.3">此促进了中差生不同程度的进步和发展。</tspan></text></g>
<g id="f4-f"><text class="t"><tspan x="1720" y="1936.4">其次，认真制定教学计划，注重研究教学理论</tspan><tspan x="1720" dy="13.3">，认真备课和教学，积极参加科组活动和备课</tspan><tspan x="1720" dy="13.3">组活动，并能经常听各老师的课，从中吸取教</tspan><tspan x="1720" dy="13.3">学经验，取长补短，提高自己的教学的业务水</tspan><tspan x="1720" dy="13.3">平。每节课都以最佳的精神状态站在教坛，以</tspan><tspan x="1720" dy="13.3">和蔼、轻松、认真的形象去面对学生。还注意</tspan><tspan x="1720" dy="13.3">以德为本，结合现实生活中的现象层层善诱，</tspan><tspan x="1720" dy="13.3">多方面、多角度去培养现实良好的品德和高尚</tspan><tspan x="1720" dy="13.3">的人格。</tspan></text></g>
<g id="f4-g"><text class="t"><tspan x="1720" y="2095.9">教育是爱心事业，为培养高素质的下一代，本</tspan><tspan x="1720" dy="13.3">人时刻从现实身心健康，根据学生的个性特点</tspan><tspan x="1720" dy="13.3">去点拨引导，对于个别差生，利用课间多次倾</tspan><tspan x="1720" dy="13.3">谈，鼓励其确立正确的学习态度，积极面对人</tspan><tspan x="1720" dy="13.3">生，而对优生，教育其戒骄戒躁努力向上，再</tspan><tspan x="1720" dy="13.3">接再厉，再创佳绩。通过现实生活中的典范，</tspan><tspan x="1720" dy="13.3">让学生树立自觉地从德、智、体、美、劳全方</tspan><tspan x="1720" dy="13.3">面去发展自己的观念，树立崇高远大的理想。</tspan></text></g>
<g id="f4-h"><text class="t"><tspan x="1720" y="2237.4">课前做到认真备课，多方面去搜集相关资料。</tspan><tspan x="1720" dy="13.3">为提高每节课的教学质量，本人除注重研究教</tspan><tspan x="1720" dy="13.3">材，把握好基础、重点难点外，还采用多媒体</tspan><tspan x="1720" dy="13.3">教学，如：投影、幻灯、漫画、录音等多样形</tspan><tspan x="1720" dy="13.3">式。通过培养学生学习数学的兴趣，调动学生</tspan><tspan x="1720" dy="13.3">学习的积极性、主动性，提高课堂的教学质量</tspan><tspan x="1720" dy="13.3">，按时完成教学任务。</tspan></text></g>
<g id="f4-i"><text class="t"><tspan x="1720" y="2359.9">最后，能制定好复习计划，并能认真备好复习</tspan><tspan x="1720" dy="13.3">课，培养好尖子生，提高中等生，帮助差生。</tspan><tspan x="1720" dy="13.3">但由于本学期授课时间较短，复习内容较多，</tspan><tspan x="1720" dy="13.3">复习比较仓促，同时发觉很大一部分学生接受</tspan><tspan x="1720" dy="13.3">能力较差，学习自觉性不高，班级的差生面积</tspan><tspan x="1720" dy="13.3">较大，致使无暇顾及，导致本学期教学成绩未</tspan><tspan x="1720" dy="13.3">达所想。</tspan></text></g>
<g id="f4-j"><text class="t"><tspan x="1720" y="2484.4">在以后的教学工作中，要不断总结经验，力求</tspan><tspan x="1720" dy="13.3">提高自己的教学水平，还要多下功夫加强对个</tspan><tspan x="1720" dy="13.3">别差生的辅导，相信一切问题都会迎刃而解，</tspan><tspan x="1720" dy="13.3">我也相信有耕耘总会有收获!</tspan></text></g>

<g id="related">
<rect class="pill" x="1497" y="2749" width="255" height="48" rx="22"/>
<text class="bb"><tspan x="1521" y="2768.9">数学教学优秀研修总结范文相关文</tspan><tspan x="1521" y="2785.6">章：</tspan></text>
</g>
<g id="related-items">
<text class="t" x="1778" y="2570.5">★ 数学教学经验研修总结范文2021</text>
<text class="t" x="1778" y="2616.3">★ 数学教学研修总结范文2021</text>
<text class="t" x="1778" y="2662.1">★ 2021数学教学研修工作总结范文</text>
<text class="t" x="1778" y="2707.9">★ 2021数学教学研修总结简短范文</text>
<text class="t" x="1778" y="2753.7">★ 2021数学教师教学研修总结范文</text>
<text class="t" x="1778" y="2799.5">★ 2021学年数学教学研修总结范文</text>
<text class="t" x="1778" y="2845.3">★ 数学教学研修计划范文5篇</text>
<text class="t" x="1778" y="2891.1">★ 数学教学感悟工作总结范文7篇</text>
<text class="t" x="1778" y="2936.9">★ 数学教学体会工作总结范文7篇</text>
<text class="t" x="1778" y="2982.7">★ 2021年度数学教师教学研修总结范文</text>
</g>

<g id="watermark" class="wm">
<text transform="translate(340,693) rotate(-27)"><tspan font-family="Noto Sans CJK SC" font-size="100">树图</tspan><tspan font-family="Liberation Serif" font-size="130" dx="40">shutu.cn</tspan></text>
<text transform="translate(330,1705) rotate(-27)"><tspan font-family="Noto Sans CJK SC" font-size="100">树图</tspan><tspan font-family="Liberation Serif" font-size="130" dx="40">shutu.cn</tspan></text>
<text transform="translate(345,2700) rotate(-27)"><tspan font-family="Noto Sans CJK SC" font-size="100">树图</tspan><tspan font-family="Liberation Serif" font-size="130" dx="40">shutu.cn</tspan></text>
<text transform="translate(1640,704) rotate(-27)"><tspan font-family="Noto Sans CJK SC" font-size="100">树图</tspan><tspan font-family="Liberation Serif" font-size="130" dx="40">shutu.cn</tspan></text>
<text transform="translate(1640,1709) rotate(-27)"><tspan font-family="Noto Sans CJK SC" font-size="100">树图</tspan><tspan font-family="Liberation Serif" font-size="130" dx="40">shutu.cn</tspan></text>
<text transform="translate(1640,2704) rotate(-27)"><tspan font-family="Noto Sans CJK SC" font-size="100">树图</tspan><tspan font-family="Liberation Serif" font-size="130" dx="40">shutu.cn</tspan></text>
</g>
</svg>
